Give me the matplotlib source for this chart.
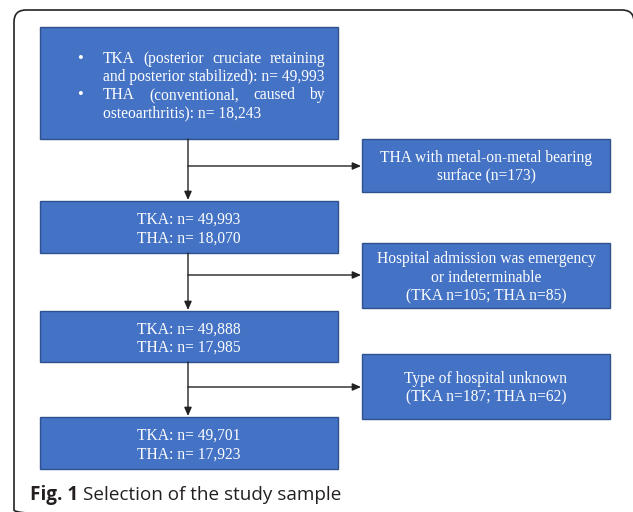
import matplotlib.pyplot as plt
from matplotlib.patches import Rectangle, FancyBboxPatch

# --- flowchart content ---
first_box_lines = [
    ("TKA (posterior cruciate retaining", True, True),
    ("and posterior stabilized): n= 49,993", False, False),
    ("THA (conventional, caused by", True, True),
    ("osteoarthritis): n= 18,243", False, False),
]  # (text, bullet, justified)
main_boxes = [
    "TKA: n= 49,993\nTHA: n= 18,070",
    "TKA: n= 49,888\nTHA: n= 17,985",
    "TKA: n= 49,701\nTHA: n= 17,923",
]
excluded_boxes = [
    "THA with metal-on-metal bearing\nsurface (n=173)",
    "Hospital admission was emergency\nor indeterminable\n(TKA n=105; THA n=85)",
    "Type of hospital unknown\n(TKA n=187; THA n=62)",
]
caption_bold = "Fig. 1"
caption_text = "Selection of the study sample"

# --- layout (pixels, y down) ---
W, H = 633, 512
main_x0, main_x1 = 40, 338
main_y = [(27, 139), (201, 253), (311, 362), (417, 469)]
excl_x0, excl_x1 = 362, 610
excl_y = [(139, 192), (243, 308), (354, 419)]
branch_y = [166, 275, 387]
trunk_x = 188

fill = "#4472C4"
edge = "#2F528F"
serif = "Liberation Serif"
fs = 11.2
lsp = 1.22
dy = 2  # nudge centred labels down a little

fig = plt.figure(figsize=(W / 100, H / 100), dpi=100)
ax = fig.add_axes([0, 0, 1, 1])
ax.set_xlim(0, W)
ax.set_ylim(H, 0)
ax.axis("off")

# outer frame (runs off the right and bottom edges)
ax.add_patch(FancyBboxPatch((14, 10), 620, 512, boxstyle="round,pad=0,rounding_size=12",
                            fill=False, ec="#222222", lw=1.2))


def box(x0, x1, y0, y1):
    ax.add_patch(Rectangle((x0, y0), x1 - x0, y1 - y0, fc=fill, ec=edge, lw=1.0))


# first box with bullets and justified lines
box(main_x0, main_x1, *main_y[0])
renderer = fig.canvas.get_renderer()
baselines = [63, 81, 99, 117]
text_left, text_right = 103, 325
for (txt, bullet, justify), y in zip(first_box_lines, baselines):
    if bullet:
        ax.text(80, y, "\u2022", color="white", fontsize=12, family=serif,
                ha="center", va="baseline")
    words = txt.split(" ")
    if not justify:
        ax.text(text_left, y, txt, color="white", fontsize=fs, family=serif,
                ha="left", va="baseline")
        continue
    items = [ax.text(0, y, w, color="white", fontsize=fs, family=serif,
                     ha="left", va="baseline") for w in words]
    widths = [t.get_window_extent(renderer).width for t in items]
    gap = (text_right - text_left - sum(widths)) / (len(words) - 1)
    x = text_left
    for t, w in zip(items, widths):
        t.set_x(x)
        x += w + gap

# other main boxes
for label, (y0, y1) in zip(main_boxes, main_y[1:]):
    box(main_x0, main_x1, y0, y1)
    ax.text((main_x0 + main_x1) / 2, (y0 + y1) / 2 + dy, label, color="white", fontsize=fs,
            family=serif, ha="center", va="center", linespacing=lsp)

# exclusion boxes
for label, (y0, y1) in zip(excluded_boxes, excl_y):
    box(excl_x0, excl_x1, y0, y1)
    ax.text((excl_x0 + excl_x1) / 2, (y0 + y1) / 2 + dy, label, color="white", fontsize=fs,
            family=serif, ha="center", va="center", linespacing=lsp)

# arrows
arrow = dict(arrowstyle="-|>,head_length=0.5,head_width=0.22", color="#222222", lw=1.0,
             shrinkA=0, shrinkB=0)
for i in range(3):
    ax.annotate("", xy=(trunk_x, main_y[i + 1][0] - 1), xytext=(trunk_x, main_y[i][1]),
                arrowprops=arrow)
    ax.annotate("", xy=(excl_x0 - 1, branch_y[i]), xytext=(trunk_x, branch_y[i]),
                arrowprops=arrow)

# caption
cap_fs = 13.6
cap = ax.text(30, 495, caption_bold, fontsize=cap_fs, family="Open Sans", weight="bold",
              color="#231F20", ha="left", va="center")
bb = cap.get_window_extent(renderer)
ax.text(30 + bb.width + 5, 495, caption_text, fontsize=cap_fs, family="Open Sans",
        color="#231F20", ha="left", va="center")

fig.savefig("out.png", dpi=100)
